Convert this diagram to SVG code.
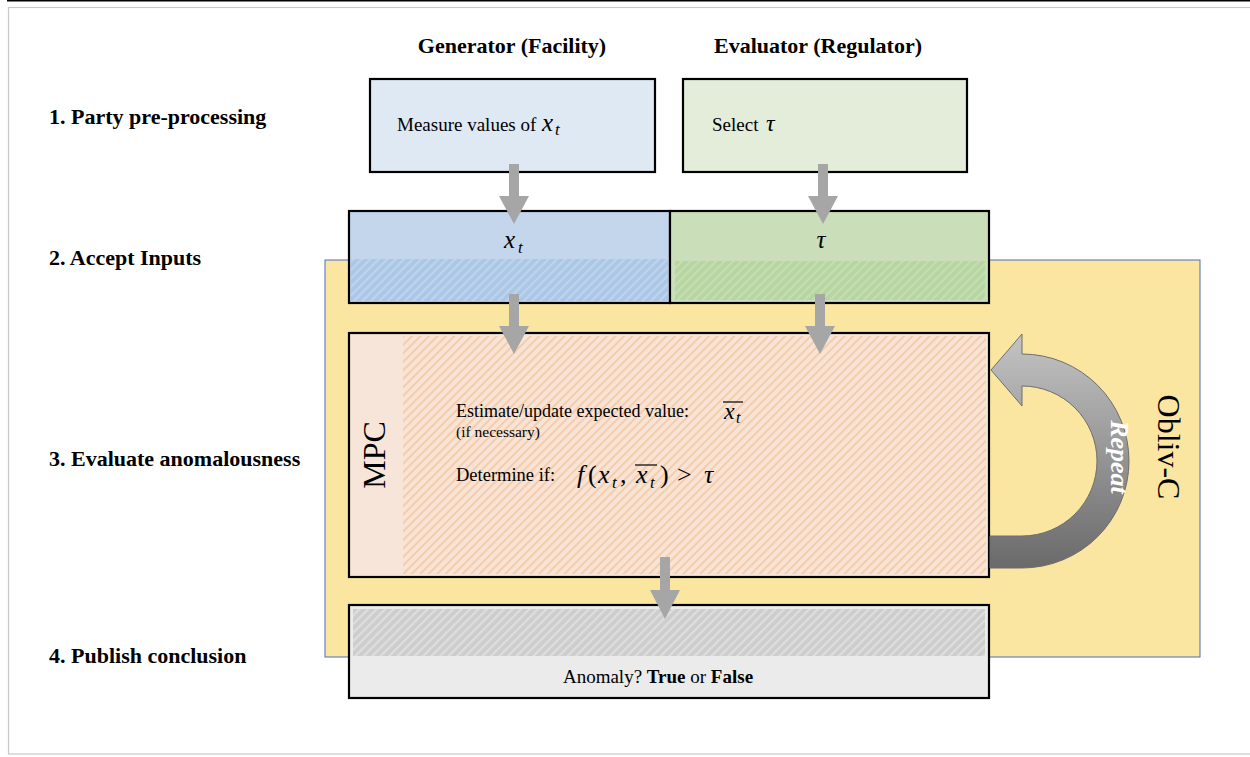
<svg xmlns="http://www.w3.org/2000/svg" width="1250" height="757" viewBox="0 0 1250 757">
<defs>
<style>
.lbl{font-family:"Liberation Serif","Times New Roman",serif;font-weight:bold;font-size:22px;fill:#000}
.txt{font-family:"Liberation Serif","Times New Roman",serif;font-size:19px;fill:#000}
.math{font-family:"Liberation Serif","DejaVu Serif",serif;font-style:italic;fill:#000}
.up{font-family:"Liberation Serif","DejaVu Serif",serif;fill:#000}
.box{stroke:#000;stroke-width:2.2}
.arr{fill:#a6a6a6}
.bar{stroke:#000;stroke-width:1.2}
</style>
<pattern id="hBlue" width="6" height="6" patternUnits="userSpaceOnUse" patternTransform="rotate(45)">
<rect width="6" height="6" fill="#abc7e6"/><rect width="2.2" height="6" fill="#bfd4ec"/>
</pattern>
<pattern id="hGreen" width="6" height="6" patternUnits="userSpaceOnUse" patternTransform="rotate(45)">
<rect width="6" height="6" fill="#b5d5a1"/><rect width="2.2" height="6" fill="#c6ddb2"/>
</pattern>
<pattern id="hPeach" width="6" height="6" patternUnits="userSpaceOnUse" patternTransform="rotate(45)">
<rect width="6" height="6" fill="#f8e3d5"/><rect width="1.8" height="6" fill="#f3cba8"/>
</pattern>
<pattern id="hGray" width="6" height="6" patternUnits="userSpaceOnUse" patternTransform="rotate(45)">
<rect width="6" height="6" fill="#cdcdcd"/><rect width="2.2" height="6" fill="#dedede"/>
</pattern>
<linearGradient id="gRep" x1="0" y1="0" x2="0" y2="1">
<stop offset="0" stop-color="#c4c4c4"/><stop offset="1" stop-color="#6a6a6a"/>
</linearGradient>
</defs>

<rect x="7" y="0" width="1243" height="1.5" fill="#000"/>
<rect x="8.5" y="7.5" width="1250" height="746.5" fill="#fff" stroke="#c8c8c8" stroke-width="1.2"/>

<g id="row-labels">
<text class="lbl" x="49" y="124">1. Party pre-processing</text>
<text class="lbl" x="49" y="265">2. Accept Inputs</text>
<text class="lbl" x="49" y="466">3. Evaluate anomalousness</text>
<text class="lbl" x="49" y="663">4. Publish conclusion</text>
</g>

<g id="headers">
<text class="lbl" x="512" y="53" text-anchor="middle">Generator (Facility)</text>
<text class="lbl" x="818" y="53" text-anchor="middle">Evaluator (Regulator)</text>
</g>

<g id="oblivc">
<rect x="325" y="260" width="875" height="397" fill="#fae5a1" stroke="#4a6fc0" stroke-width="1"/>
<text transform="translate(1158,447) rotate(90)" text-anchor="middle" font-family="Liberation Serif, serif" font-size="32" fill="#000">Obliv-C</text>
</g>

<g id="generator">
<rect class="box" x="370" y="79" width="285" height="93" fill="#dfe9f4"/>
<text class="txt" x="397" y="131">Measure values of</text>
<text class="math" x="542" y="131" font-size="25">x</text>
<text class="math" x="555" y="135" font-size="17">t</text>
</g>

<g id="evaluator">
<rect class="box" x="683" y="79" width="284" height="93" fill="#e3edd9"/>
<text class="txt" x="712" y="131">Select</text>
<text class="math" x="766" y="131" font-size="24">τ</text>
</g>

<g id="input-x">
<rect x="349" y="211" width="321" height="92" fill="#c3d6eb"/>
<rect x="351" y="259" width="317" height="42" fill="url(#hBlue)"/>
<rect class="box" x="349" y="211" width="321" height="92" fill="none"/>
<text class="math" x="504" y="248" font-size="25">x</text>
<text class="math" x="518" y="253" font-size="17">t</text>
</g>

<g id="input-tau">
<rect x="670" y="211" width="319" height="92" fill="#cadfb9"/>
<rect x="675" y="261" width="310" height="39" fill="url(#hGreen)"/>
<rect class="box" x="670" y="211" width="319" height="92" fill="none"/>
<text class="math" x="821" y="248" font-size="25" text-anchor="middle">τ</text>
</g>

<g id="mpc">
<rect x="349" y="333" width="640" height="244" fill="#f8e5d9"/>
<rect x="403" y="336" width="583" height="238" fill="url(#hPeach)"/>
<rect class="box" x="349" y="333" width="640" height="244" fill="none"/>
<text transform="translate(385,455) rotate(-90)" text-anchor="middle" font-family="Liberation Serif, serif" font-size="32" fill="#000">MPC</text>
<text class="txt" x="456" y="417" style="font-size:18px">Estimate/update expected value:</text>
<text class="math" x="724" y="419" font-size="24">x</text>
<text class="math" x="736" y="423" font-size="16">t</text>
<line class="bar" x1="723" y1="402" x2="743" y2="402"/>
<text class="txt" x="456" y="437" style="font-size:15.5px">(if necessary)</text>
<text class="txt" x="456" y="481" style="font-size:18.5px">Determine if:</text>
<text class="math" x="577" y="483" font-size="26">f</text>
<text class="up" x="588" y="483" font-size="26">(</text>
<text class="math" x="598" y="483" font-size="26">x</text>
<text class="math" x="612" y="488" font-size="17">t</text>
<text class="up" x="620" y="483" font-size="26">,</text>
<text class="math" x="636" y="483" font-size="26">x</text>
<text class="math" x="650" y="488" font-size="17">t</text>
<line class="bar" x1="635" y1="465" x2="657" y2="465"/>
<text class="up" x="660" y="483" font-size="26">)</text>
<text class="up" x="677" y="483" font-size="26">&gt;</text>
<text class="math" x="704" y="483" font-size="26">τ</text>
</g>

<g id="repeat">
<path d="M990 568 L1022 568 A107 107 0 0 0 1022 354 L1022 334 L991 370 L1022 406 L1022 386 A75 75 0 0 1 1022 536 L990 536 Z" fill="url(#gRep)" stroke="#6e6e6e" stroke-width="1"/>
<text transform="translate(1111,457) rotate(90)" text-anchor="middle" font-family="Liberation Serif, serif" font-weight="bold" font-style="italic" font-size="26" fill="#fff">Repeat</text>
</g>

<g id="publish">
<rect x="349" y="605" width="640" height="93" fill="#ebebeb"/>
<rect x="353" y="609" width="632" height="47" fill="url(#hGray)"/>
<rect class="box" x="349" y="605" width="640" height="93" fill="none"/>
<text class="txt" x="658" y="683" text-anchor="middle">Anomaly? <tspan font-weight="bold">True</tspan> or <tspan font-weight="bold">False</tspan></text>
</g>

<g id="connectors">
<polygon class="arr" points="509,164 519,164 519,196 529,196 514,224 499,196 509,196"/>
<polygon class="arr" points="818,164 828,164 828,196 838,196 823,224 808,196 818,196"/>
<polygon class="arr" points="509,294 519,294 519,326 529,326 514,354 499,326 509,326"/>
<polygon class="arr" points="815,294 825,294 825,326 835,326 820,354 805,326 815,326"/>
<polygon class="arr" points="660,557 670,557 670,590 680,590 665,619 650,590 660,590"/>
</g>
</svg>
